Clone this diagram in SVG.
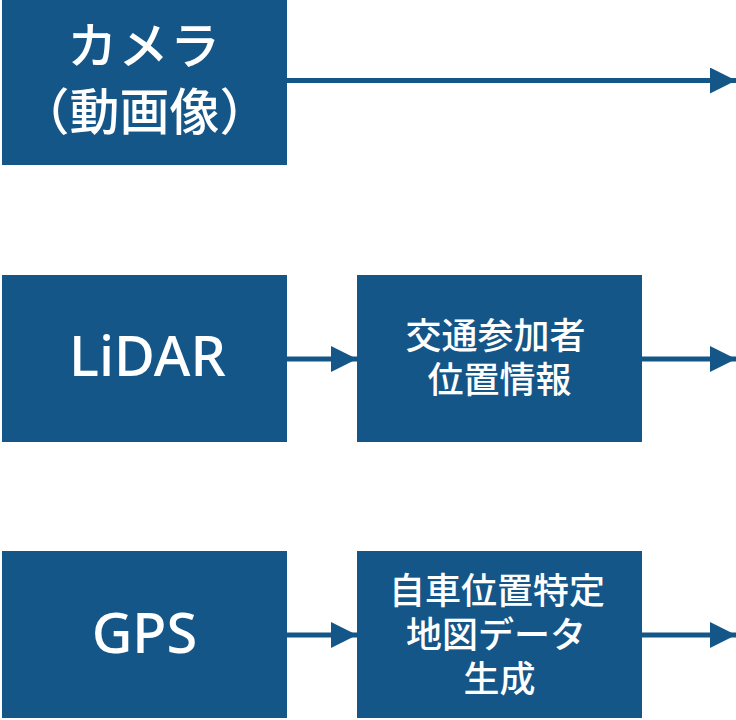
<svg xmlns="http://www.w3.org/2000/svg" width="736" height="720" viewBox="0 0 736 720">
  <defs>
    <style>
      .box { fill: #145688; }
      .jp { font-family: "Noto Sans CJK JP", "Noto Sans", sans-serif; font-weight: 500; fill: #ffffff; text-anchor: middle; }
      .lat { font-family: "Noto Sans", "Liberation Sans", sans-serif; font-weight: 500; fill: #ffffff; text-anchor: middle; }
      .conn { stroke: #145688; stroke-width: 5; fill: none; }
    </style>
    <marker id="arrow" markerUnits="userSpaceOnUse" markerWidth="26" markerHeight="26" viewBox="0 0 26 26" refX="26" refY="13" orient="auto">
      <path d="M0,0 L26,13 L0,26 Z" fill="#145688"/>
    </marker>
  </defs>
  <rect width="736" height="720" fill="#ffffff"/>
  <g id="connectors">
    <line class="conn" x1="287" y1="80.5" x2="736" y2="80.5" marker-end="url(#arrow)"/>
    <line class="conn" x1="287" y1="359" x2="357" y2="359" marker-end="url(#arrow)"/>
    <line class="conn" x1="642" y1="359" x2="736" y2="359" marker-end="url(#arrow)"/>
    <line class="conn" x1="287" y1="635" x2="357" y2="635" marker-end="url(#arrow)"/>
    <line class="conn" x1="642" y1="635" x2="736" y2="635" marker-end="url(#arrow)"/>
  </g>
  <g id="camera">
    <rect class="box" x="2" y="0" width="285" height="165"/>
    <text class="jp" font-size="50">
      <tspan letter-spacing="1.5" x="150" y="64">カメラ</tspan>
      <tspan x="144.5" y="130">（動画像）</tspan>
    </text>
  </g>
  <g id="lidar">
    <rect class="box" x="2" y="275" width="285" height="167"/>
    <text class="lat" font-size="56" x="147.5" y="376">LiDAR</text>
  </g>
  <g id="gps">
    <rect class="box" x="2" y="551" width="285" height="167"/>
    <text class="lat" font-size="56" x="144.5" y="653">GPS</text>
  </g>
  <g id="traffic">
    <rect class="box" x="357" y="275" width="285" height="167"/>
    <text class="jp" font-size="36">
      <tspan x="499.5" y="349">交通参加者</tspan>
      <tspan x="499.5" y="393">位置情報</tspan>
    </text>
  </g>
  <g id="mapgen">
    <rect class="box" x="357" y="551" width="285" height="167"/>
    <text class="jp" font-size="36">
      <tspan x="501" y="604">自車位置特定</tspan>
      <tspan x="500" y="648">地図データ</tspan>
      <tspan x="499.5" y="692">生成</tspan>
    </text>
  </g>
</svg>
